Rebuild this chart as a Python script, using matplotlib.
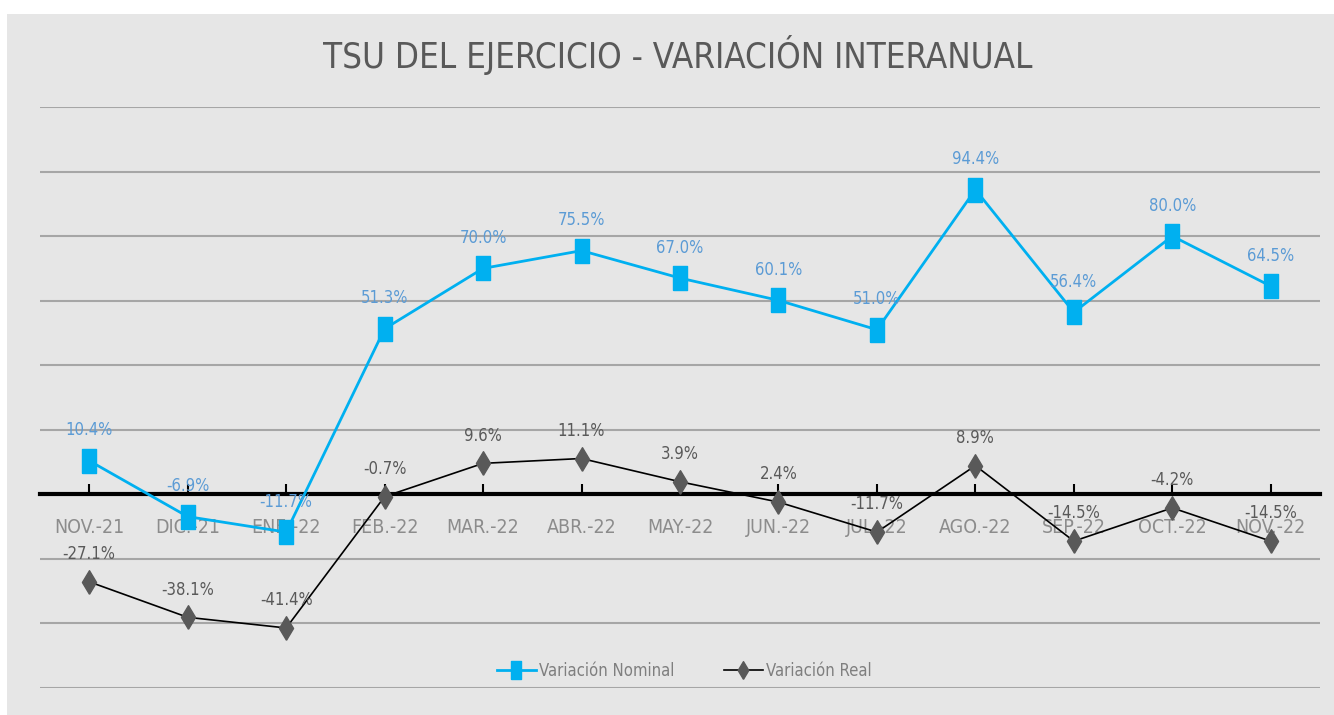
import matplotlib
matplotlib.use('Agg')
import matplotlib.pyplot as plt
from matplotlib.patches import Rectangle
from matplotlib.path import Path

meses = ['NOV.-21', 'DIC.-21', 'ENE.-22', 'FEB.-22', 'MAR.-22', 'ABR.-22', 'MAY.-22',
         'JUN.-22', 'JUL.-22', 'AGO.-22', 'SEP.-22', 'OCT.-22', 'NOV.-22']
nominal = [10.4, -6.9, -11.7, 51.3, 70.0, 75.5, 67.0, 60.1, 51.0, 94.4, 56.4, 80.0, 64.5]
real = [-27.1, -38.1, -41.4, -0.7, 9.6, 11.1, 3.9, -2.4, -11.7, 8.9, -14.5, -4.2, -14.5]
real_labels = ['-27.1%', '-38.1%', '-41.4%', '-0.7%', '9.6%', '11.1%', '3.9%',
               '2.4%', '-11.7%', '8.9%', '-14.5%', '-4.2%', '-14.5%']

plt.rcParams['font.family'] = ['DejaVu Sans']
plt.rcParams['font.stretch'] = 'condensed'

bg = '#e6e6e6'
fig = plt.figure(figsize=(13.34, 7.15), dpi=100, facecolor='white')
fig.patches.append(Rectangle((7 / 1334, 0), 1 - 7 / 1334, 1 - 14 / 715,
                             transform=fig.transFigure, facecolor=bg,
                             edgecolor='none', zorder=-5))

ax = fig.add_axes([40 / 1334, 1 - 688 / 715, 1280 / 1334, (688 - 107) / 715])
ax.set_facecolor('none')
ax.set_zorder(2)
x = list(range(len(meses)))

rect = Path([(-0.6, -1), (0.6, -1), (0.6, 1), (-0.6, 1), (-0.6, -1)])
diam = Path([(0, -1), (0.6, 0), (0, 1), (-0.6, 0), (0, -1)])

ax.plot(x, nominal, color='#00b0f0', lw=2, marker=rect, ms=17,
        mfc='#00b0f0', mec='#00b0f0', label='Variación Nominal', zorder=4)
ax.plot(x, real, color='black', lw=1.2, marker=diam, ms=17,
        mfc='#595959', mec='#595959', label='Variación Real', zorder=4)

for i, v in enumerate(nominal):
    ax.annotate(f'{v:.1f}%', (i, v), xytext=(0, 22), textcoords='offset points',
                ha='center', va='center', fontsize=12, color='#5b9bd5', zorder=5)
for i, v in enumerate(real):
    ax.annotate(real_labels[i], (i, v), xytext=(0, 20), textcoords='offset points',
                ha='center', va='center', fontsize=12, color='#595959', zorder=5)

ax.set_xlim(-0.5, 12.5)
ax.set_ylim(-60, 120)
ax.set_yticks(range(-60, 121, 20))
ax.yaxis.grid(True, color='#a6a6a6', lw=1.5)
ax.set_axisbelow(True)
ax.tick_params(axis='y', length=0, labelleft=False)
for s in ['top', 'right', 'left']:
    ax.spines[s].set_visible(False)
ax.spines['bottom'].set_position(('data', 0))
ax.spines['bottom'].set_linewidth(3)
ax.spines['bottom'].set_color('black')
ax.spines['bottom'].set_zorder(3)
ax.set_xticks(x)
ax.set_xticklabels(meses)
ax.tick_params(axis='x', direction='in', length=7, width=1.5, color='black',
               labelsize=14, labelcolor='#8c8c8c', pad=17)

fig.text(0.508, 1 - 55 / 715, 'TSU DEL EJERCICIO - VARIACIÓN INTERANUAL',
         ha='center', va='center', fontsize=25, color='#595959')

fig.legend(loc='center', bbox_to_anchor=(0.513, 1 - 671 / 715), ncol=2,
           frameon=False, fontsize=12, labelcolor='#7f7f7f', handlelength=2.3,
           markerscale=0.75, columnspacing=3, handletextpad=0.2)

fig.savefig('out.png', dpi=100, facecolor='white')
